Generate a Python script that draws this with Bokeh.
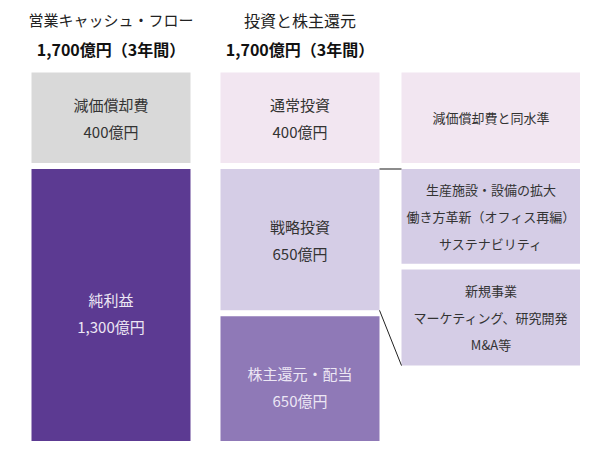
from bokeh.plotting import figure
from bokeh.models import Range1d, ColumnDataSource
from bokeh.core.properties import value
from bokeh.embed import file_html
from bokeh.resources import INLINE

# ---------------- data ----------------
headers = ["営業キャッシュ・フロー", "投資と株主還元"]
totals = ["1,700億円（3年間）", "1,700億円（3年間）"]

cf_labels = ["減価償却費", "純利益"]
cf_values = [400, 1300]

inv_labels = ["通常投資", "戦略投資", "株主還元・配当"]
inv_values = [400, 650, 650]

detail_lines = [
    ["減価償却費と同水準"],
    ["生産施設・設備の拡大", "働き方革新（オフィス再編）", "サステナビリティ"],
    ["新規事業", "マーケティング、研究開発", "M&A等"],
]

# ---------------- layout / style ----------------
FONT = "Noto Sans CJK JP"
W, H = 580, 441
S = 0.2265            # px per 億円
TOP_PX = 72           # top of blocks in px
GAP = 26              # gap between blocks (億円 units)
LINE = 27 / S         # text line spacing in units

cf_colors = ["#d9d9d9", "#5c3a92"]
cf_text = ["#333333", "#ece6f4"]
inv_colors = ["#f2e6f1", "#d5cde6", "#8f79b7"]
inv_text = ["#333333", "#333333", "#ece6f4"]
det_colors = ["#f2e6f1", "#d5cde6", "#d5cde6"]

col_x = [(31, 190), (220, 379), (401, 600)]

p = figure(width=W, height=H, output_backend="svg", toolbar_location=None,
           x_range=Range1d(0, W),
           y_range=Range1d((H - TOP_PX) / S, -TOP_PX / S),
           min_border=0, outline_line_color=None,
           x_axis_location=None, y_axis_location=None,
           background_fill_color="white", border_fill_color="white")
p.xgrid.visible = False
p.ygrid.visible = False


def stack(values):
    tops, bottoms = [], []
    c = 0
    for i, v in enumerate(values):
        tops.append(c + (GAP if i > 0 else 0))
        c += v
        bottoms.append(c)
    return tops, bottoms


def make_lines(cx, cy, lines, color, store):
    n = len(lines)
    for i, ln in enumerate(lines):
        store["x"].append(cx)
        store["y"].append(cy + (i - (n - 1) / 2) * LINE)
        store["t"].append(ln)
        store["c"].append(color)


main_txt = dict(x=[], y=[], t=[], c=[])
det_txt = dict(x=[], y=[], t=[], c=[])

# column 1
t1, b1 = stack(cf_values)
l, r = col_x[0]
p.quad(left=[l] * 2, right=[r] * 2, top=t1, bottom=b1, fill_color=cf_colors, line_color=None)
for lab, v, t, b, c in zip(cf_labels, cf_values, t1, b1, cf_text):
    make_lines((l + r) / 2, (t + b) / 2, [lab, f"{v:,}億円"], c, main_txt)

# column 2
t2, b2 = stack(inv_values)
l, r = col_x[1]
p.quad(left=[l] * 3, right=[r] * 3, top=t2, bottom=b2, fill_color=inv_colors, line_color=None)
for lab, v, t, b, c in zip(inv_labels, inv_values, t2, b2, inv_text):
    make_lines((l + r) / 2, (t + b) / 2, [lab, f"{v:,}億円"], c, main_txt)

# column 3 (details)
d_heights = [inv_values[0], 444, 450]
t3, b3 = stack(d_heights)
l3, r3 = col_x[2]
p.quad(left=[l3] * 3, right=[r3] * 3, top=t3, bottom=b3, fill_color=det_colors, line_color=None)
for lines, t, b in zip(detail_lines, t3, b3):
    make_lines((l3 + W) / 2, (t + b) / 2, lines, "#333333", det_txt)

p.text(x="x", y="y", text="t", text_color="c", source=ColumnDataSource(main_txt),
       text_font=value(FONT), text_font_size="15px", text_align="center", text_baseline="middle")
p.text(x="x", y="y", text="t", text_color="c", source=ColumnDataSource(det_txt),
       text_font=value(FONT), text_font_size="13px", text_align="center", text_baseline="middle")

# connectors
p.segment(x0=[col_x[1][1]], y0=[t2[1]], x1=[l3], y1=[t3[1]], line_color="#666666", line_width=1.5)
p.segment(x0=[col_x[1][1]], y0=[b2[1]], x1=[l3], y1=[b3[2]], line_color="#222222", line_width=1)

# headers
hx = [(col_x[0][0] + col_x[0][1]) / 2, (col_x[1][0] + col_x[1][1]) / 2]
p.text(x=hx[:1], y=[(19 - TOP_PX) / S], text=headers[:1], text_font=value(FONT), text_font_size="15px",
       text_color="#222222", text_align="center", text_baseline="middle")
p.text(x=hx[1:], y=[(19 - TOP_PX) / S], text=headers[1:], text_font=value(FONT), text_font_size="16px",
       text_color="#222222", text_align="center", text_baseline="middle")
p.text(x=hx, y=[(48 - TOP_PX) / S] * 2, text=totals, text_font=value(FONT), text_font_size="16px",
       text_font_style="bold", text_color="#111111", text_align="center", text_baseline="middle")

open("out.html", "w").write(file_html(p, INLINE))
